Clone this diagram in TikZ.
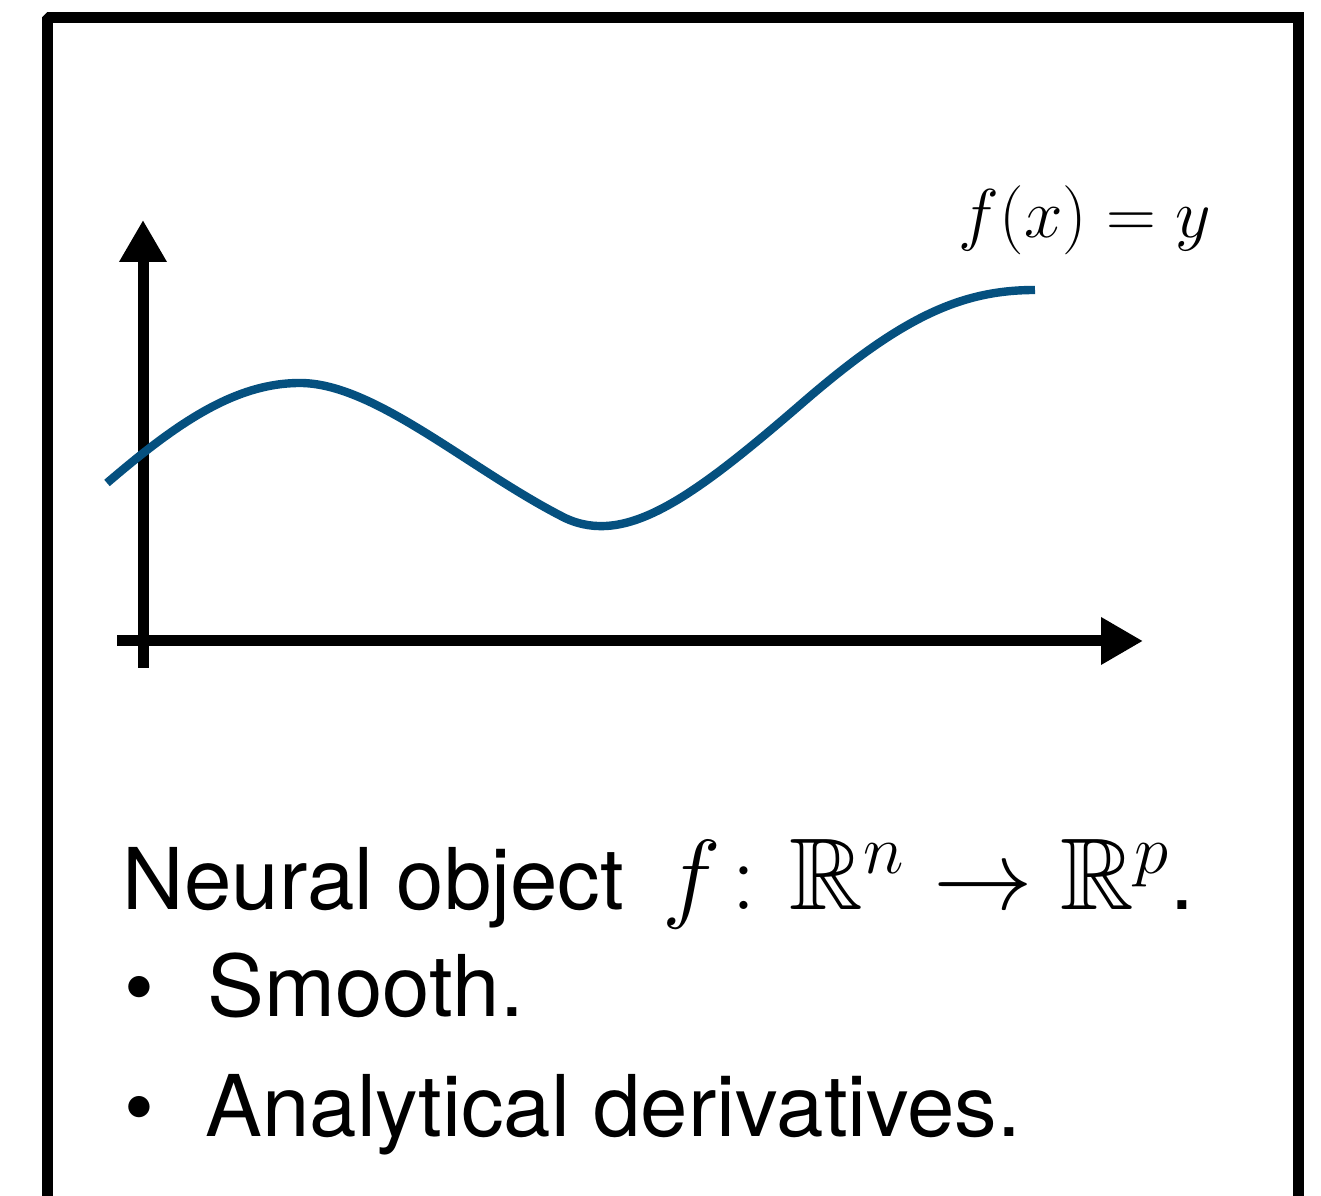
\documentclass[tikz,border=0pt]{standalone}
\usepackage{amsmath}
\usepackage{amssymb}
\usepackage[no-math]{fontspec}
\setmainfont{TeX Gyre Heros}
\usetikzlibrary{arrows.meta}
\definecolor{curveblue}{HTML}{05507F}
\definecolor{framedark}{HTML}{000000}
\newcommand{\paneltext}{\fontsize{21.3}{25.0}\selectfont}
\newcommand{\labeltext}{\fontsize{18.7}{22.0}\selectfont}
\newcommand{\mathtext}{\fontsize{25.5}{28.0}\selectfont}

\begin{document}
\begin{tikzpicture}[x=0.25pt,y=-0.25pt,font=\paneltext,
  axisline/.style={line width=2.75pt,color=framedark,-{Triangle[length=10.5pt,width=11.2pt]}},
  textline/.style={anchor=base west,inner sep=0pt}]
\useasboundingbox (0,0) rectangle (1321,1196);
\clip (0,0) rectangle (1321,1196);

% frame, open at the bottom
\coordinate (fbl) at (47.5,1230);
\coordinate (ftl) at (47.5,17.5);
\coordinate (ftm) at (600,17.5);
\coordinate (ftr) at (1298,17.5);
\coordinate (fbr) at (1298,1230);
\draw[line width=2.75pt,color=framedark,line join=bevel] (fbl) -- (ftl) -- (ftm);
\draw[line width=2.75pt,color=framedark,line join=miter] (ftm) -- (ftr) -- (fbr);

% axes
\coordinate (ybot) at (143,668);
\coordinate (ytop) at (143,220);
\coordinate (xleft) at (117,641);
\coordinate (xright) at (1143,641);
\draw[axisline] (ybot) -- (ytop);
\draw[axisline] (xleft) -- (xright);

% the function
\coordinate (c0) at (107,483);
\coordinate (c1) at (300,383);
\coordinate (c2) at (565,518);
\coordinate (c3) at (800,405);
\coordinate (c4) at (1035,290);
\draw[line width=2.1pt,color=curveblue]
  (c0) .. controls (177,423) and (235,383) .. (c1)
       .. controls (375,383) and (470,470) .. (c2)
       .. controls (625,546) and (690,500) .. (c3)
       .. controls (900,318) and (960,290) .. (c4);
\node[textline,font=\labeltext] (flabel) at (958,238) {$f(x) = y$};

% description
\node[textline] (obj) at (122,910) {Neural object \,{\mathtext$f\colon \mathbb{R}^n \to \mathbb{R}^p$}.};
\node[textline] (b1) at (124,1017) {\textbullet};
\node[textline] (smooth) at (207,1017) {Smooth.};
\node[textline] (b2) at (124,1137) {\textbullet};
\node[textline] (deriv) at (205,1137) {Analytical derivatives.};
\end{tikzpicture}
\end{document}
